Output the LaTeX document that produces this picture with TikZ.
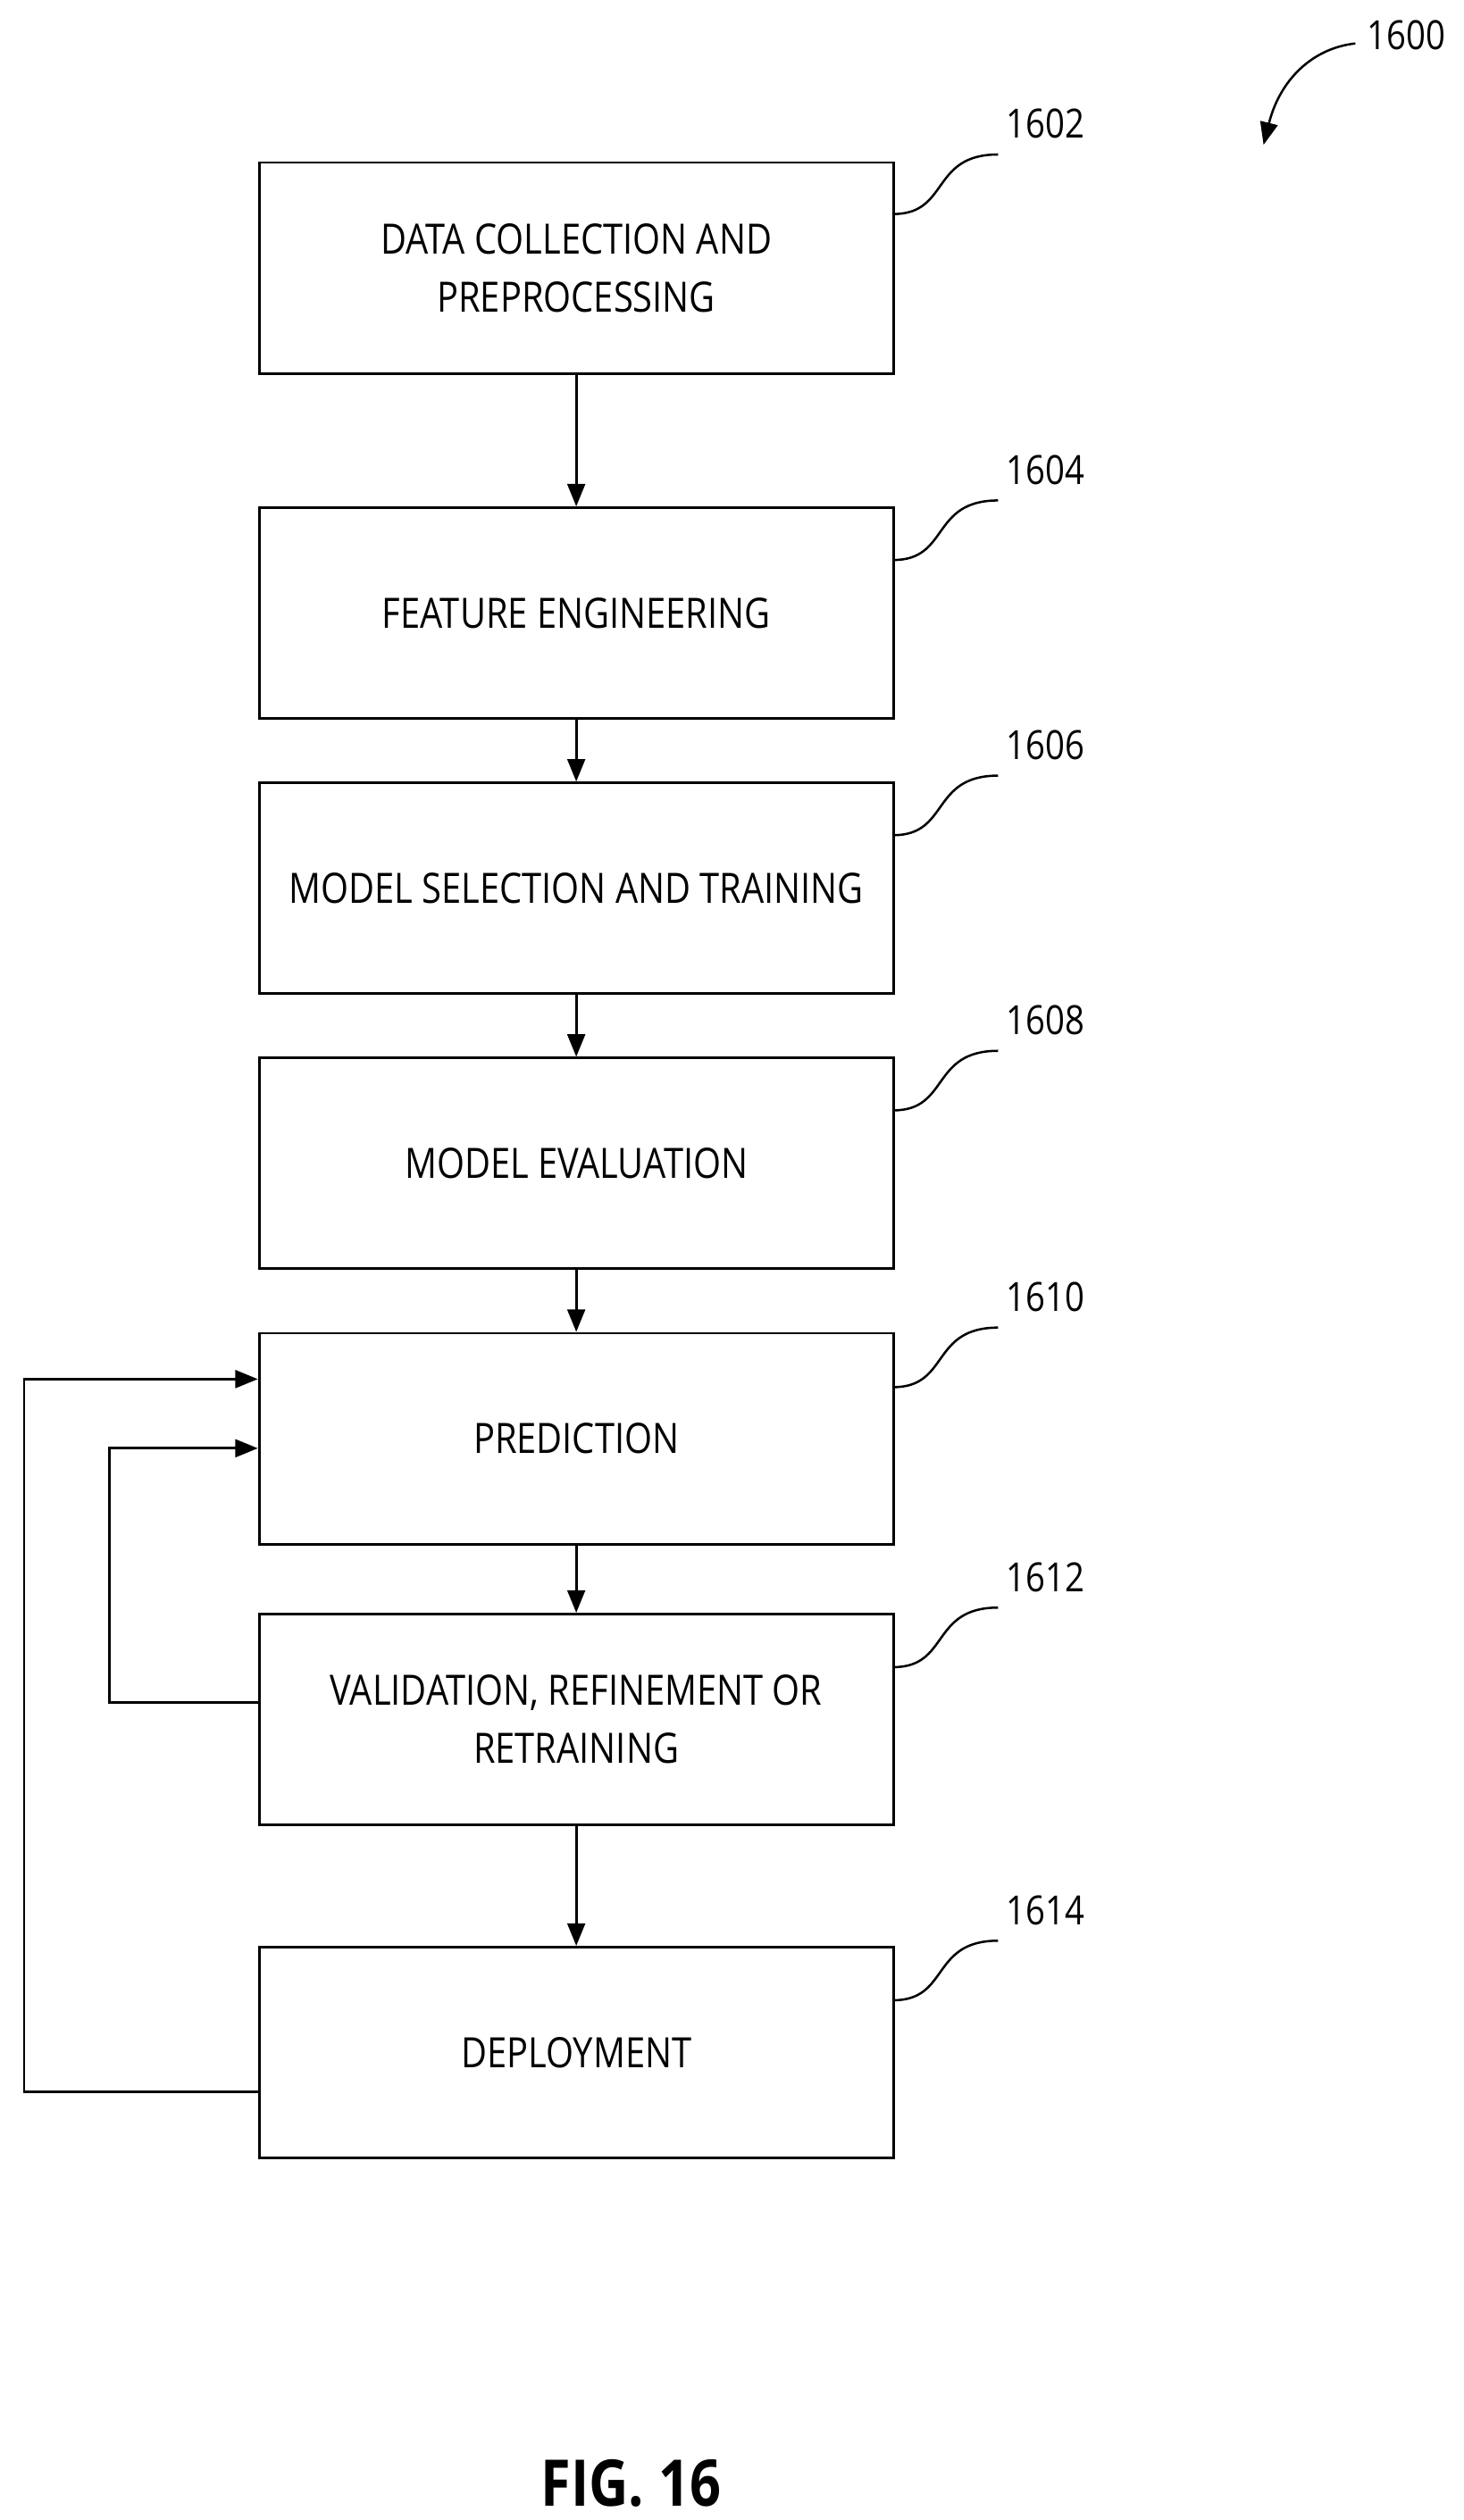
\documentclass[tikz,border=0pt]{standalone}
\usepackage{fontspec}
\setmainfont{Open Sans}[FakeStretch=0.85]
\usetikzlibrary{arrows.meta}
\begin{document}
\begin{tikzpicture}[x=1pt,y=-1pt,
  box/.style={draw,line width=1.6pt,minimum width=394pt,minimum height=131pt,align=center,font=\fontsize{26}{36}\selectfont,inner sep=0pt},
  lbl/.style={font=\fontsize{25}{30}\selectfont,anchor=west,inner sep=0pt},
  arr/.style={line width=1.6pt,-{Triangle[length=14pt,width=11pt]}},
  sq/.style={line width=1.4pt}]
\useasboundingbox (0,0) rectangle (909,1566);
\node[box] (b1) at (358,166.5) {DATA COLLECTION AND\\PREPROCESSING};
\node[box] (b2) at (358,381) {FEATURE ENGINEERING};
\node[box] (b3) at (358,552) {MODEL SELECTION AND TRAINING};
\node[box] (b4) at (358,723) {MODEL EVALUATION};
\node[box] (b5) at (358,894) {PREDICTION};
\node[box] (b6) at (358,1068.5) {VALIDATION, REFINEMENT OR\\RETRAINING};
\node[box] (b7) at (358,1275.5) {DEPLOYMENT};
\draw[arr] (b1) -- (b2);
\draw[arr] (b2) -- (b3);
\draw[arr] (b3) -- (b4);
\draw[arr] (b4) -- (b5);
\draw[arr] (b5) -- (b6);
\draw[arr] (b6) -- (b7);
\coordinate (o1) at (15,1300); \coordinate (o2) at (15,857);
\coordinate (i1) at (68,1058); \coordinate (i2) at (68,900);
\draw[arr] (b7.west |- o1) -- (o1) -- (o2) -- (b5.west |- o2);
\draw[arr] (b6.west |- i1) -- (i1) -- (i2) -- (b5.west |- i2);
\foreach \b/\n/\y in {b1/1602/133,b2/1604/348,b3/1606/519,b4/1608/690,b5/1610/862,b6/1612/1036,b7/1614/1243}{
  \coordinate (s\n) at (555,\y);
  \coordinate (e\n) at (620,\y-37);
  \draw[sq] (s\n) .. controls (590,\y) and (578,\y-37) .. (e\n);
  \node[lbl] (l\n) at (625,\y-56) {\n};
}
\node[lbl] (l1600) at (849,22) {1600};
\coordinate (a1) at (842,27);
\coordinate (a2) at (785,90);
\draw[line width=1.4pt,-{Triangle[length=14pt,width=11pt]}] (a1) .. controls (815,30) and (795,50) .. (a2);
\node[font=\fontsize{40}{40}\selectfont\bfseries] (fig) at (392,1543) {FIG. 16};
\end{tikzpicture}
\end{document}
